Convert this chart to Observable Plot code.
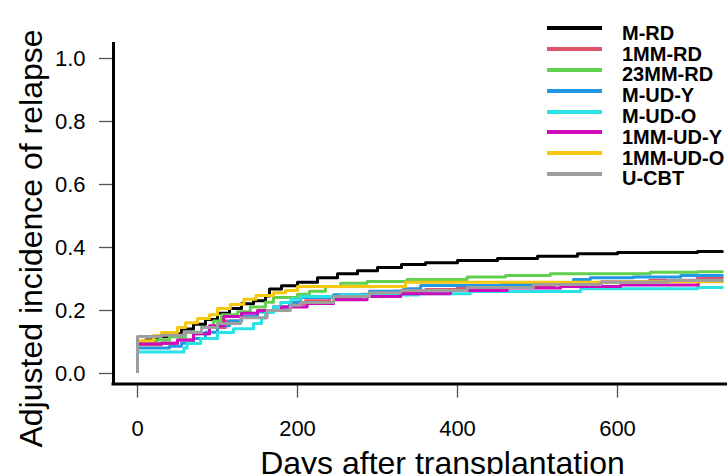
<!DOCTYPE html>
<html>
<head>
<meta charset="utf-8">
<script src="https://cdn.jsdelivr.net/npm/d3@7"></script>
<script src="https://cdn.jsdelivr.net/npm/@observablehq/plot@0.6"></script>
<style>
  body { margin: 0; background: #fff; }
  #wrap { position: relative; width: 727px; height: 474px; overflow: hidden; font-family: "Liberation Sans", Arial, sans-serif; }
  .lg-line { position: absolute; height: 4px; }
  .lg-text { position: absolute; font-family: "Liberation Sans", Arial, sans-serif; font-weight: bold; font-size: 20px; line-height: 20px; white-space: nowrap; color: #000; }
</style>
</head>
<body>
<div id="wrap"></div>
<script>
// ---- data ----
const groups = ["M-RD", "1MM-RD", "23MM-RD", "M-UD-Y", "M-UD-O", "1MM-UD-Y", "1MM-UD-O", "U-CBT"];
const colors = ["#000000", "#DF536B", "#61D04F", "#2297E6", "#28E2E5", "#CD0BBC", "#F5C710", "#9E9E9E"];

const mrdDays = [0, 0, 10, 25, 40, 55, 70, 85, 100, 115, 130, 145, 160, 165, 180, 200, 225, 250, 275, 300, 330, 360, 400, 450, 500, 550, 600, 700, 731];
const mrdVals = [0, 0.095, 0.10, 0.11, 0.12, 0.135, 0.15, 0.165, 0.185, 0.20, 0.215, 0.225, 0.24, 0.262, 0.272, 0.283, 0.298, 0.31, 0.32, 0.33, 0.34, 0.345, 0.352, 0.359, 0.366, 0.374, 0.378, 0.381, 0.381];

const mm1rdDays = [0, 0, 30, 50, 70, 90, 110, 130, 150, 170, 190, 210, 240, 280, 320, 360, 400, 460, 520, 580, 640, 700, 731];
const mm1rdVals = [0, 0.085, 0.09, 0.10, 0.12, 0.14, 0.16, 0.175, 0.19, 0.205, 0.215, 0.225, 0.235, 0.245, 0.255, 0.26, 0.265, 0.27, 0.278, 0.285, 0.29, 0.298, 0.298];

const mm23rdDays = [0, 0, 20, 40, 60, 80, 95, 105, 125, 141, 160, 170, 200, 215, 235, 254, 287, 337, 412, 460, 516, 641, 700, 731];
const mm23rdVals = [0, 0.093, 0.10, 0.11, 0.125, 0.14, 0.16, 0.18, 0.19, 0.205, 0.22, 0.235, 0.245, 0.255, 0.27, 0.28, 0.286, 0.292, 0.30, 0.305, 0.31, 0.315, 0.317, 0.317];

const mudyDays = [0, 0, 40, 55, 70, 85, 100, 115, 130, 150, 170, 190, 204, 245, 290, 333, 354, 454, 545, 566, 620, 679, 731];
const mudyVals = [0, 0.075, 0.08, 0.09, 0.105, 0.125, 0.145, 0.16, 0.175, 0.19, 0.205, 0.22, 0.235, 0.244, 0.255, 0.263, 0.273, 0.276, 0.292, 0.298, 0.30, 0.305, 0.305];

const mudoDays = [0, 0, 58, 62, 79, 100, 120, 145, 155, 160, 170, 179, 192, 204, 254, 351, 416, 554, 700, 731];
const mudoVals = [0, 0.062, 0.075, 0.089, 0.105, 0.124, 0.136, 0.152, 0.17, 0.187, 0.203, 0.219, 0.23, 0.238, 0.243, 0.247, 0.254, 0.263, 0.267, 0.267];

const mm1udyDays = [0, 0, 30, 50, 70, 90, 108, 130, 150, 180, 212, 245, 287, 329, 391, 462, 529, 604, 701];
const mm1udyVals = [0, 0.088, 0.09, 0.10, 0.12, 0.145, 0.175, 0.185, 0.194, 0.205, 0.216, 0.228, 0.238, 0.247, 0.257, 0.265, 0.27, 0.275, 0.28];

const mm1udoDays = [0, 0, 20, 30, 50, 60, 75, 90, 100, 116, 133, 148, 170, 185, 200, 335, 600, 731];
const mm1udoVals = [0, 0.098, 0.114, 0.124, 0.14, 0.155, 0.168, 0.18, 0.2, 0.213, 0.229, 0.241, 0.25, 0.257, 0.27, 0.283, 0.285, 0.285];

const ucbtDays = [0, 0, 30, 58, 80, 100, 129, 162, 191, 204, 245, 290, 329, 412, 495, 579, 662, 731];
const ucbtVals = [0, 0.111, 0.115, 0.124, 0.14, 0.152, 0.171, 0.194, 0.21, 0.219, 0.238, 0.25, 0.257, 0.267, 0.276, 0.283, 0.289, 0.29];

const xTicks = [0, 200, 400, 600];
const yTicks = [0, 0.2, 0.4, 0.6, 0.8, 1.0];
const xTitle = "Days after transplantation";
const yTitle = "Adjusted incidence of relapse";

// ---- build ----
const seriesDays = [mrdDays, mm1rdDays, mm23rdDays, mudyDays, mudoDays, mm1udyDays, mm1udoDays, ucbtDays];
const seriesVals = [mrdVals, mm1rdVals, mm23rdVals, mudyVals, mudoVals, mm1udyVals, mm1udoVals, ucbtVals];
const tables = groups.map((g, i) => seriesDays[i].map((d, j) => ({group: g, day: d, value: seriesVals[i][j]})));

const xDomain = [-30, 737.5];
const yDomain = [-0.04, 1.04];

const chart = Plot.plot({
  width: 727,
  height: 474,
  marginLeft: 113,
  marginRight: 0,
  marginTop: 43.4,
  marginBottom: 90.4,
  style: {fontFamily: "'Liberation Sans', Arial, sans-serif", fontSize: "22px", background: "white", color: "black"},
  x: {domain: xDomain},
  y: {domain: yDomain},
  color: {domain: groups, range: colors},
  marks: [
    ...tables.map(t => Plot.line(t, {x: "day", y: "value", stroke: "group", curve: "step-after", strokeWidth: 3})),
    Plot.axisY({ticks: yTicks, tickFormat: d => d.toFixed(1), tickSize: 14, tickPadding: 14, dy: 2, fontSize: 22, stroke: "#555", strokeWidth: 1.3, label: null}),
    Plot.axisX({ticks: xTicks, tickSize: 14, tickPadding: 21.8, fontSize: 22, stroke: "#555", strokeWidth: 1.3, label: null}),
    Plot.ruleX([xDomain[0]], {stroke: "black", strokeWidth: 3, strokeLinecap: "square"}),
    Plot.ruleY([yDomain[0]], {stroke: "black", strokeWidth: 3, strokeLinecap: "square"}),
    Plot.text([xTitle], {frameAnchor: "bottom", lineAnchor: "bottom", textAnchor: "middle", dy: 90, dx: 22, fontSize: 32, fill: "black"}),
    Plot.text([yTitle], {frameAnchor: "left", lineAnchor: "bottom", textAnchor: "middle", rotate: -90, dx: -72, dy: 24.5, fontSize: 32, fill: "black"})
  ]
});

const wrap = document.getElementById("wrap");
wrap.appendChild(chart);

// legend overlay
groups.forEach((g, i) => {
  const ly = 28.3 + i * 20.8;
  const line = document.createElement("div");
  line.className = "lg-line";
  line.style.left = "547px";
  line.style.width = "55px";
  line.style.top = (ly - 2) + "px";
  line.style.background = colors[i];
  wrap.appendChild(line);
  const t = document.createElement("div");
  t.className = "lg-text";
  t.style.left = "622px";
  t.style.top = (ly - 5.5) + "px";
  t.textContent = g;
  wrap.appendChild(t);
});
</script>
</body>
</html>
